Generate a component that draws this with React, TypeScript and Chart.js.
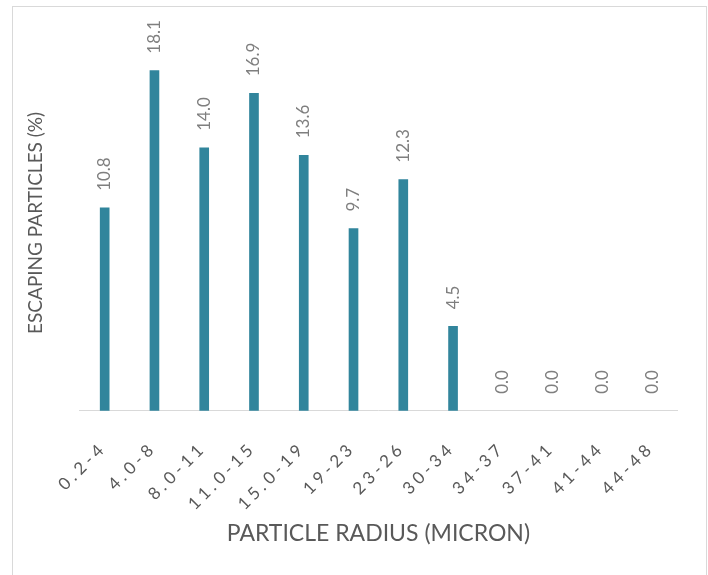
import React, { useEffect, useRef } from "react";
import { Chart, registerables } from "chart.js";

Chart.register(...registerables);

const categories = ["0.2-4", "4.0-8", "8.0-11", "11.0-15", "15.0-19", "19-23", "23-26", "30-34", "34-37", "37-41", "41-44", "44-48"];
const escapingValues = [10.8, 18.1, 14.0, 16.9, 13.6, 9.7, 12.3, 4.5, 0.0, 0.0, 0.0, 0.0];
const yTitle = "ESCAPING PARTICLES (%)";
const xTitle = "PARTICLE RADIUS (MICRON)";

const FONT = "Lato, 'Open Sans', sans-serif";

const frame = {
  id: "frame",
  beforeDraw(chart: any) {
    const ctx = chart.ctx;
    ctx.save();
    ctx.fillStyle = "#ffffff";
    ctx.fillRect(0, 0, chart.width, chart.height);
    ctx.strokeStyle = "#D9D9D9";
    ctx.lineWidth = 1;
    ctx.strokeRect(12.5, 6.5, 694, 700);
    ctx.restore();
  },
};

const valueLabels = {
  id: "valueLabels",
  afterDatasetsDraw(chart: any) {
    const ctx = chart.ctx;
    const meta = chart.getDatasetMeta(0);
    const data = chart.data.datasets[0].data as number[];
    ctx.save();
    ctx.font = `17px ${FONT}`;
    ctx.fillStyle = "#7F7F7F";
    ctx.textAlign = "left";
    ctx.textBaseline = "middle";
    meta.data.forEach((el: any, i: number) => {
      ctx.save();
      ctx.translate(el.x, el.y - 17);
      ctx.rotate(-Math.PI / 2);
      ctx.fillText(data[i].toFixed(1), 0, 0);
      ctx.restore();
    });
    ctx.restore();
    (ctx as any).letterSpacing = "4px";
  },
  afterDraw(chart: any) {
    (chart.ctx as any).letterSpacing = "0px";
  },
};

export default function App() {
  const ref = useRef<HTMLCanvasElement>(null);
  useEffect(() => {
    if (!ref.current) return;
    const chart = new Chart(ref.current, {
      type: "bar",
      data: {
        labels: categories,
        datasets: [
          {
            data: escapingValues,
            backgroundColor: (c: any) => (c.raw > 0 ? "#31859C" : "rgba(0,0,0,0)"),
            borderWidth: 0,
            barThickness: 9,
          },
        ],
      },
      options: {
        animation: false,
        responsive: false,
        maintainAspectRatio: false,
        layout: { padding: { left: 20, right: 31, top: 35, bottom: 17 } },
        plugins: {
          legend: { display: false },
          tooltip: { enabled: false },
          title: { display: false },
        },
        scales: {
          x: {
            grid: { display: false },
            border: { display: true, color: "#D9D9D9", width: 1 },
            ticks: {
              z: 1,
              autoSkip: false,
              minRotation: 45,
              maxRotation: 45,
              padding: 19,
              labelOffset: -1,
              color: "#595959",
              font: { family: FONT, size: 17 },
            },
            title: {
              display: true,
              text: xTitle,
              color: "#595959",
              font: { family: FONT, size: 23 },
              padding: { top: 6, bottom: 11 },
            },
          },
          y: {
            min: 0,
            max: 20,
            grid: { display: false },
            border: { display: false },
            ticks: { display: false },
            title: {
              display: true,
              text: yTitle,
              color: "#595959",
              font: { family: FONT, size: 19 },
              padding: { top: 4, bottom: 25 },
            },
          },
        },
      },
      plugins: [frame, valueLabels],
    });
    return () => chart.destroy();
  }, []);
  return (
    <div style={{ position: "fixed", left: 0, top: 0, width: 708, height: 575, background: "#fff" }}>
      <canvas ref={ref} width={708} height={575} style={{ width: 708, height: 575, display: "block" }} />
    </div>
  );
}
